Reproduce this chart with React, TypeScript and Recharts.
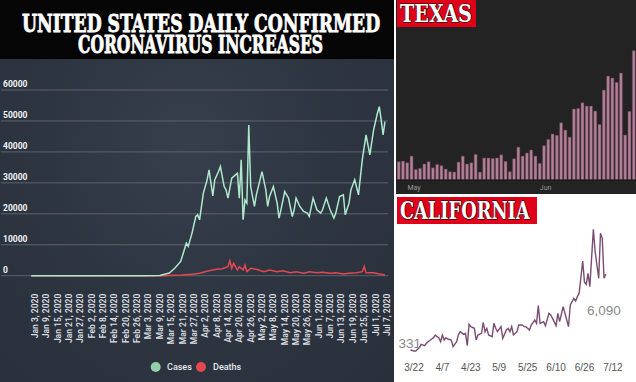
import React from 'react';
import { LineChart, Line, XAxis, YAxis, CartesianGrid, BarChart, Bar, LabelList } from 'recharts';

// ---------- United States (days since Jan 1, 2020) ----------
const usTickDays = [2, 8, 14, 20, 26, 32, 38, 44, 50, 56, 62, 68, 74, 80, 86, 92, 98, 104, 110, 116, 122, 128, 134, 140, 146, 152, 158, 164, 170, 176, 182, 188];
const usTickLabels = ['Jan 3, 2020', 'Jan 9, 2020', 'Jan 15, 2020', 'Jan 21, 2020', 'Jan 27, 2020', 'Feb 2, 2020', 'Feb 8, 2020', 'Feb 14, 2020', 'Feb 20, 2020', 'Feb 26, 2020', 'Mar 3, 2020', 'Mar 9, 2020', 'Mar 15, 2020', 'Mar 21, 2020', 'Mar 27, 2020', 'Apr 2, 2020', 'Apr 8, 2020', 'Apr 14, 2020', 'Apr 20, 2020', 'Apr 26, 2020', 'May 2, 2020', 'May 8, 2020', 'May 14, 2020', 'May 20, 2020', 'May 26, 2020', 'Jun 1, 2020', 'Jun 7, 2020', 'Jun 13, 2020', 'Jun 19, 2020', 'Jun 25, 2020', 'Jul 1, 2020', 'Jul 7, 2020'];
const usYTicks = [0, 10000, 20000, 30000, 40000, 50000, 60000];

const usCaseDays = [0, 60, 68, 73, 76, 79, 82, 83, 85, 87, 88, 89, 91, 93, 94, 96, 97, 99, 100, 102, 103, 104, 106, 108, 109, 110, 111, 112, 113, 114, 115, 116, 118, 119, 122, 124, 125, 126, 128, 130, 131, 132, 134, 136, 138, 139, 140, 142, 144, 146, 147, 149, 151, 153, 154, 156, 158, 160, 161, 163, 165, 166, 168, 169, 171, 173, 175, 177, 179, 181, 183, 184, 185, 186, 187];
const usCases = [0, 0, 100, 870, 2500, 4600, 10500, 9460, 13770, 19130, 19680, 18070, 26670, 30970, 34200, 25800, 30970, 33650, 35260, 28810, 27740, 25060, 31510, 32580, 33120, 25060, 37420, 18070, 24520, 23450, 48710, 28810, 22370, 26130, 33650, 27740, 22370, 25600, 28810, 23450, 18600, 21290, 27200, 25060, 19130, 21290, 25060, 22370, 20750, 20220, 19130, 25060, 21290, 20220, 21290, 25060, 21290, 18600, 20220, 25600, 26130, 19680, 23450, 27740, 30970, 26130, 37420, 45490, 39030, 47100, 52490, 54620, 50330, 45490, 49780];

const usDeathDays = [0, 70, 73, 80, 85, 89, 94, 98, 101, 104, 105, 106, 107, 108, 109, 110, 112, 113, 114, 116, 119, 123, 126, 130, 133, 137, 140, 144, 147, 151, 154, 158, 161, 165, 168, 172, 175, 176, 177, 181, 184, 187];
const usDeaths = [0, 0, 100, 200, 500, 770, 1610, 2060, 2270, 2900, 4840, 2370, 4000, 2900, 1830, 2900, 1830, 3440, 1290, 2370, 2060, 1290, 1830, 1290, 1610, 970, 1290, 770, 1290, 970, 1100, 770, 970, 540, 770, 970, 1290, 3000, 970, 970, 540, 220];

// ---------- Texas ----------
const txDates = ['4/29', '4/30', '5/1', '5/2', '5/3', '5/4', '5/5', '5/6', '5/7', '5/8', '5/9', '5/10', '5/11', '5/12', '5/13', '5/14', '5/15', '5/16', '5/17', '5/18', '5/19', '5/20', '5/21', '5/22', '5/23', '5/24', '5/25', '5/26', '5/27', '5/28', '5/29', '5/30', '5/31', '6/1', '6/2', '6/3', '6/4', '6/5', '6/6', '6/7', '6/8', '6/9', '6/10', '6/11', '6/12', '6/13', '6/14', '6/15', '6/16', '6/17', '6/18', '6/19', '6/20', '6/21', '6/22', '6/23'];
const txCases = [1430, 1480, 1350, 1870, 830, 910, 1250, 1430, 960, 1220, 1120, 860, 650, 620, 1400, 1870, 1250, 1350, 2000, 620, 1720, 1720, 1690, 1720, 1970, 1460, 650, 1660, 2570, 1870, 2110, 2340, 1870, 1300, 2680, 3170, 3590, 3490, 4470, 3900, 3350, 5540, 5590, 6030, 5770, 5770, 5380, 4340, 7020, 8110, 7960, 7620, 8350, 3510, 5360, 10090];
const txTicks = ['5/1', '6/1'];
const txTickLabels = ['May', 'Jun'];

// ---------- California (days since 3/22) ----------
const caDays = [-2, 0, 1, 3, 4, 6, 7, 8, 10, 11, 12, 13, 14, 15, 16, 17, 18, 19, 21, 22, 24, 25, 26, 28, 29, 30, 31, 32, 34, 35, 36, 38, 39, 40, 41, 42, 44, 45, 46, 47, 49, 50, 52, 53, 54, 55, 56, 58, 59, 61, 62, 63, 65, 66, 68, 69, 70, 71, 73, 74, 76, 77, 78, 80, 81, 82, 84, 85, 86, 87, 88, 90, 91, 92, 93, 95, 96, 97, 98, 99, 101, 102, 104, 105, 106, 107, 108];
const caCases = [331, 258, 258, 510, 763, 662, 839, 965, 1167, 1268, 1470, 1343, 1268, 965, 1470, 1091, 1268, 1167, 1091, 586, 965, 1470, 1722, 1520, 1596, 662, 2278, 2101, 1975, 1091, 1470, 1596, 2429, 1722, 1975, 1470, 1343, 2354, 1975, 1722, 2101, 1217, 1848, 1975, 1722, 2101, 1470, 1722, 2227, 2227, 2101, 2101, 1848, 2227, 2606, 2354, 3692, 2354, 2480, 2177, 3111, 2985, 2732, 2177, 3111, 2480, 3616, 3111, 2606, 2101, 3742, 4247, 4045, 4374, 4626, 7076, 5460, 5308, 6141, 5131, 9475, 7784, 5763, 9172, 8793, 5763, 6090];
const caTickDays = [0, 16, 32, 48, 64, 80, 96, 112];
const caTickLabels = ['3/22', '4/7', '4/23', '5/9', '5/25', '6/10', '6/26', '7/12'];

const usCaseData = usCaseDays.map((d, i) => ({ day: d, cases: usCases[i] }));
const usDeathData = usDeathDays.map((d, i) => ({ day: d, deaths: usDeaths[i] }));
const txData = txDates.map((d, i) => ({ date: d, cases: txCases[i] }));
const caData = caDays.map((d, i) => ({ day: d, cases: caCases[i] }));

const SANS = "Roboto, 'Liberation Sans', sans-serif";
const SLAB = "'DejaVu Serif', serif";

// HTML text squeezed horizontally to a target width (baseline placed at `baseline`)
const FitText = ({ text, left, baseline, width, fontSize, lineHeight, color, stroke }: { text: string; left: number; baseline: number; width: number; fontSize: number; lineHeight: number; color: string; stroke: string }) => {
  const ref = React.useRef<HTMLSpanElement>(null);
  const [scale, setScale] = React.useState(1);
  React.useLayoutEffect(() => {
    if (ref.current) {
      const w = ref.current.offsetWidth;
      if (w > 0) setScale(width / w);
    }
  }, [text, width]);
  const top = baseline - (lineHeight / 2 + fontSize * 0.346);
  return (
    <span
      ref={ref}
      style={{
        position: 'absolute',
        left,
        top,
        height: lineHeight,
        fontFamily: SLAB,
        fontWeight: 700,
        fontSize,
        lineHeight: `${lineHeight}px`,
        whiteSpace: 'nowrap',
        color,
        WebkitTextStroke: stroke,
        paintOrder: 'stroke fill',
        transform: `scaleX(${scale})`,
        transformOrigin: '0 0',
        display: 'inline-block',
      } as React.CSSProperties}
    >
      {text}
    </span>
  );
};

const UsXTick = (props: any) => {
  const { x, y, payload } = props;
  const idx = usTickDays.indexOf(payload.value);
  const ty = y + 18;
  return (
    <text x={x} y={ty} transform={`rotate(-90, ${x}, ${ty})`} textAnchor="end" dominantBaseline="central" fill="#dcdee1" fontSize={8.5} fontFamily={SANS} fontWeight={600}>
      {usTickLabels[idx]}
    </text>
  );
};

const UsYTick = (props: any) => {
  const { y, payload } = props;
  return (
    <text x={3} y={y - 3} fill="#f2f3f5" fontSize={8.5} fontFamily={SANS} fontWeight={700}>
      {payload.value}
    </text>
  );
};

const TxXTick = (props: any) => {
  const { x, y, payload } = props;
  const idx = txTicks.indexOf(payload.value);
  return (
    <text x={x} y={y + 10} fill="#9a9a9a" fontSize={7} fontFamily={SANS}>
      {txTickLabels[idx]}
    </text>
  );
};

const CaXTick = (props: any) => {
  const { x, y, payload } = props;
  const idx = caTickDays.indexOf(payload.value);
  return (
    <text x={x} y={y + 17} textAnchor="middle" fill="#555" fontSize={10} fontFamily="'Liberation Sans', Arial, sans-serif">
      {caTickLabels[idx]}
    </text>
  );
};

const CaEndLabel = (props: any) => {
  const { x, y, value, index } = props;
  const last = caCases.length - 1;
  if (index === 0) {
    return (
      <text x={x - 12} y={y - 2} fill="#8a8a8a" fontSize={13.5} fontFamily="'Liberation Sans', Arial, sans-serif">
        {Number(value).toLocaleString('en-US')}
      </text>
    );
  }
  if (index === last) {
    return (
      <text x={x - 2} y={y + 41} textAnchor="middle" fill="#8a8a8a" fontSize={13.5} fontFamily="'Liberation Sans', Arial, sans-serif">
        {Number(value).toLocaleString('en-US')}
      </text>
    );
  }
  return null;
};

const StateLabel = ({ text, w, tw }: { text: string; w: number; tw: number }) => (
  <div style={{ position: 'absolute', left: 1, top: 0, width: w, height: 26.5, background: '#e1001a' }}>
    <FitText text={text} left={3} baseline={22.5} width={tw} fontSize={24} lineHeight={20} color="#fff" stroke="1.2px #000" />
  </div>
);

export default function App() {
  return (
    <div style={{ position: 'absolute', left: 0, top: 0, width: 636, height: 382, background: '#ffffff', overflow: 'hidden' }}>
      {/* United States panel */}
      <div style={{ position: 'absolute', left: 0, top: 0, width: 394, height: 382, background: 'radial-gradient(ellipse at 48% 38%, #363f4b 0%, #2d3541 50%, #29303b 100%)' }}>
        <div style={{ position: 'absolute', left: 0, top: 0, width: 394, height: 59, background: '#050505' }}>
          <FitText text="UNITED STATES DAILY CONFIRMED" left={22} baseline={31.7} width={358} fontSize={24.5} lineHeight={19} color="#fff" stroke="0.9px #fff" />
          <FitText text="CORONAVIRUS INCREASES" left={78} baseline={53.3} width={245} fontSize={24.5} lineHeight={19} color="#fff" stroke="0.9px #fff" />
        </div>
        <div style={{ position: 'absolute', left: 0, top: 59 }}>
          <LineChart width={393} height={323} margin={{ top: 31, right: 5, left: 0, bottom: 0 }}>
            <CartesianGrid vertical={false} stroke="#5c636d" strokeWidth={1} />
            <XAxis type="number" dataKey="day" domain={[-15.97, 188.6]} ticks={usTickDays} interval={0} axisLine={false} tickLine={false} tickSize={0} tickMargin={0} height={106.3} tick={<UsXTick />} allowDataOverflow />
            <YAxis type="number" domain={[0, 60000]} ticks={usYTicks} interval={0} width={1} axisLine={false} tickLine={false} tickSize={0} tick={<UsYTick />} />
            <Line data={usDeathData} dataKey="deaths" name="Deaths" type="linear" stroke="#e4474f" strokeWidth={1.5} dot={false} isAnimationActive={false} />
            <Line data={usCaseData} dataKey="cases" name="Cases" type="linear" stroke="#aee8cd" strokeWidth={1.5} dot={false} isAnimationActive={false} />
          </LineChart>
        </div>
        <svg width={394} height={24} style={{ position: 'absolute', left: 0, top: 355 }}>
          <circle cx={155.7} cy={12} r={5} fill="#93cfa9" />
          <text x={167} y={15.2} fill="#e6e8ea" fontSize={9} fontFamily={SANS} fontWeight={500}>Cases</text>
          <circle cx={201} cy={12} r={5} fill="#e4474f" />
          <text x={213} y={15.2} fill="#e6e8ea" fontSize={9} fontFamily={SANS} fontWeight={500}>Deaths</text>
        </svg>
      </div>

      {/* Texas panel */}
      <div style={{ position: 'absolute', left: 396, top: 0, width: 240, height: 194, background: '#232323' }}>
        <div style={{ position: 'absolute', left: 0, top: 0 }}>
          <BarChart width={240} height={194} data={txData} margin={{ top: 26.2, right: 0, left: 0.7, bottom: 0 }} barCategoryGap="12%">
            <XAxis dataKey="date" ticks={txTicks} interval={0} height={14} tickLine={false} tickSize={0} tickMargin={0} axisLine={{ stroke: '#111', strokeWidth: 1 }} tick={<TxXTick />} />
            <YAxis hide domain={[0, 12000]} />
            <Bar dataKey="cases" fill="#b3809a" stroke="#5a3848" strokeWidth={0.5} isAnimationActive={false} />
          </BarChart>
        </div>
        <StateLabel text="TEXAS" w={79} tw={72} />
      </div>

      {/* California panel */}
      <div style={{ position: 'absolute', left: 396, top: 197, width: 240, height: 185, background: '#ffffff' }}>
        <div style={{ position: 'absolute', left: 0, top: 0 }}>
          <LineChart width={240} height={185} margin={{ top: 25.4, right: 0, left: 0, bottom: 0 }}>
            <XAxis type="number" dataKey="day" domain={[-10.13, 125]} ticks={caTickDays} interval={0} height={27.6} axisLine={false} tickLine={false} tickSize={0} tickMargin={0} tick={<CaXTick />} allowDataOverflow />
            <YAxis hide type="number" domain={[0, 10000]} />
            <Line data={caData} dataKey="cases" type="linear" stroke="#7a4c72" strokeWidth={1.4} dot={false} isAnimationActive={false}>
              <LabelList dataKey="cases" content={<CaEndLabel />} />
            </Line>
          </LineChart>
        </div>
        <StateLabel text="CALIFORNIA" w={140} tw={130} />
      </div>
    </div>
  );
}
